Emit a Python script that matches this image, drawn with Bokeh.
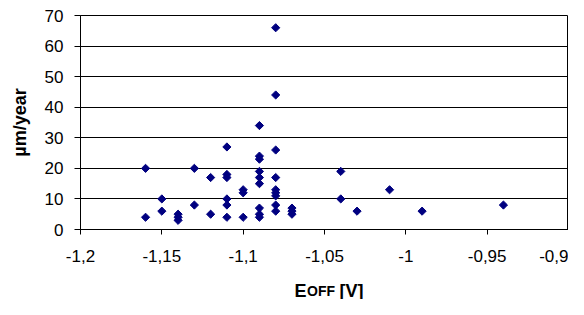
import math
from bokeh.plotting import figure
from bokeh.layouts import column
from bokeh.models import FixedTicker, CustomJSTickFormatter, Range1d
from bokeh.core.properties import value
from bokeh.embed import file_html
from bokeh.resources import INLINE

# Data
e_off = [-1.16, -1.16,
         -1.15, -1.15,
         -1.14, -1.14, -1.14,
         -1.13, -1.13,
         -1.12, -1.12,
         -1.11, -1.11, -1.11, -1.11, -1.11, -1.11,
         -1.10, -1.10, -1.10,
         -1.09, -1.09, -1.09, -1.09, -1.09, -1.09, -1.09, -1.09, -1.09,
         -1.08, -1.08, -1.08, -1.08, -1.08, -1.08, -1.08, -1.08, -1.08,
         -1.07, -1.07, -1.07,
         -1.04, -1.04,
         -1.03,
         -1.01,
         -0.99,
         -0.94]
rate = [20, 4,
        10, 6,
        5, 4, 3,
        20, 8,
        17, 5,
        27, 18, 17, 10, 8, 4,
        13, 12, 4,
        34, 24, 23, 19, 17, 15, 7, 5, 4,
        66, 44, 26, 17, 13, 12, 11, 8, 6,
        7, 6, 5,
        19, 10,
        6,
        13,
        6,
        8]

x_ticks = [-1.2, -1.15, -1.1, -1.05, -1.0, -0.95, -0.9]
y_ticks = [0, 10, 20, 30, 40, 50, 60, 70]

title_parts = ["E", "OFF", "[V]"]
title_sizes = ["18px", "14px", "18px"]
title_x = [294, 306.5, 339]   # left edges, in figure pixels

FONT = "Liberation Sans"

LEFT = 80
FRAME_W = 488
TOP = 15
FRAME_H = 214
BOTTOM = 44
STRIP_H = 26

p = figure(frame_width=FRAME_W, frame_height=FRAME_H, output_backend="svg", toolbar_location=None,
           x_range=Range1d(-1.2, -0.9), y_range=Range1d(0, 70),
           min_border_left=LEFT, min_border_right=0, min_border_top=TOP, min_border_bottom=BOTTOM)

p.scatter(e_off, rate, marker="square", angle=math.pi / 4, size=5.8,
          fill_color="#000080", line_color="#000080")

p.background_fill_color = "white"
p.border_fill_color = "white"
p.outline_line_color = "black"
p.outline_line_width = 1

p.xgrid.visible = False
p.ygrid.grid_line_color = "black"
p.ygrid.grid_line_width = 1
p.ygrid.ticker = FixedTicker(ticks=y_ticks)

p.xaxis.ticker = FixedTicker(ticks=x_ticks)
p.xaxis.formatter = CustomJSTickFormatter(code="return parseFloat(tick.toFixed(2)).toString().replace('.', ',');")
p.yaxis.ticker = FixedTicker(ticks=y_ticks)

for ax in (p.xaxis[0], p.yaxis[0]):
    ax.axis_line_color = "black"
    ax.major_tick_line_color = "black"
    ax.minor_tick_line_color = None
    ax.major_tick_in = 0
    ax.major_label_text_font = FONT
    ax.major_label_text_font_size = "17px"
    ax.major_label_text_color = "black"

p.xaxis.major_tick_out = 5
p.yaxis.major_tick_out = 6
p.xaxis.major_label_standoff = 15
p.yaxis.major_label_standoff = 11

p.yaxis.axis_label = "µm/year"
p.yaxis.axis_label_text_font = FONT
p.yaxis.axis_label_text_font_style = "bold"
p.yaxis.axis_label_text_font_size = "18px"
p.yaxis.axis_label_text_color = "black"
p.yaxis.axis_label_standoff = 12

# Strip below holding the x-axis title with its small "OFF" part
t = figure(frame_width=FRAME_W, height=STRIP_H, output_backend="svg", toolbar_location=None,
           x_range=Range1d(LEFT, LEFT + FRAME_W), y_range=Range1d(0, STRIP_H),
           min_border_left=LEFT, min_border_right=0, min_border_top=0, min_border_bottom=0)
t.axis.visible = False
t.grid.visible = False
t.outline_line_color = None
t.background_fill_color = "white"
t.border_fill_color = "white"
for txt, sz, xx in zip(title_parts, title_sizes, title_x):
    t.text(x=[xx], y=[9], text=[txt], text_font=value(FONT), text_font_style="bold",
           text_font_size=sz, text_color="black", text_baseline="alphabetic", text_align="left")

layout = column(p, t, spacing=0)
open("out.html", "w").write(file_html(layout, INLINE))
